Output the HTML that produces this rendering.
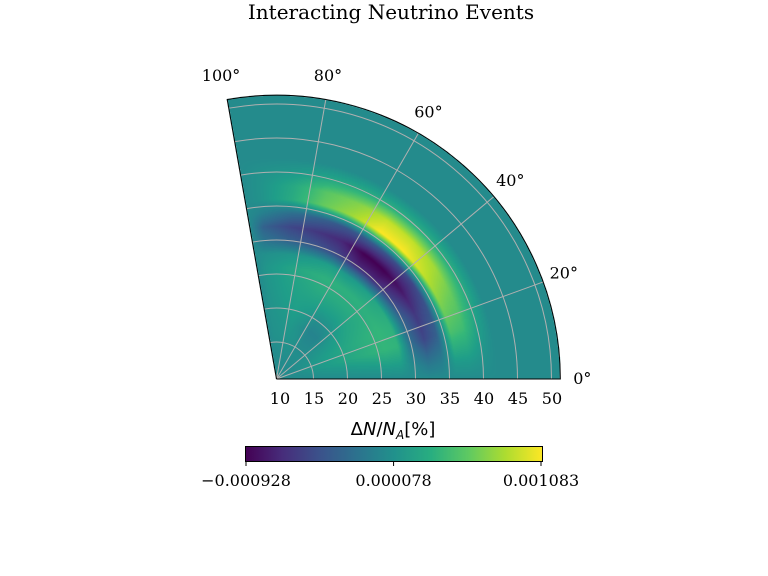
<!DOCTYPE html>
<html><head><meta charset="utf-8">
<style>
html,body{margin:0;padding:0;background:#fff;}
#wrap{position:relative;width:768px;height:576px;overflow:hidden;}
canvas,svg{position:absolute;left:0;top:0;}
text{font-family:"DejaVu Serif","Liberation Serif",serif;}
</style></head>
<body>
<div id="wrap">
<canvas id="heat" width="768" height="576"></canvas>
<svg id="ov" width="768" height="576">
<text x="391" y="19" text-anchor="middle" font-size="20">Interacting Neutrino Events</text>
<g id="grid"></g>
<g id="labels"></g>
<text x="393" y="435" text-anchor="middle" font-size="18" style="font-family:'DejaVu Sans',sans-serif">Δ<tspan font-style="italic">N</tspan>/<tspan font-style="italic">N</tspan><tspan font-style="italic" font-size="12" dy="4">A</tspan><tspan dy="-4">[%]</tspan></text>
<defs><linearGradient id="vir" x1="0" x2="1" y1="0" y2="0">
<stop offset="0" stop-color="#440154"/><stop offset="0.125" stop-color="#472d7b"/><stop offset="0.25" stop-color="#3b528b"/><stop offset="0.375" stop-color="#2c728e"/><stop offset="0.5" stop-color="#21918c"/><stop offset="0.625" stop-color="#28ae80"/><stop offset="0.75" stop-color="#5ec962"/><stop offset="0.875" stop-color="#addc30"/><stop offset="1" stop-color="#fde725"/></linearGradient></defs>
<rect x="245.5" y="446.5" width="297" height="15" fill="url(#vir)" stroke="#000" stroke-width="1"/>
<g id="cbticks"></g>
</svg>
</div>
<script>
// Data (values in units of 1e-4 %)
const radii = [10,12,14,16,18,20,22,24,26,28,30,32,34,36,38,40,42,44,46,48,50,52];
const angles = [0,5,15,25,35,45,55,65,75,85,95,100];
const values = [
[0.4,0.4,0.4,0.4,0.4,0.4,0.4,0.4,0.4,0.4,0.4,0.4],
[0.4,0.4,0.4,0.4,0.4,0.4,0.4,0.4,0.4,0.4,0.4,0.4],
[0.4,0.5,1.0,1.0,0.8,0.6,0.6,0.8,0.8,0.6,0.5,0.4],
[0.4,0.8,1.5,1.5,1.0,0.3,0.3,1.0,1.2,1.0,0.8,0.4],
[0.4,0.9,2.0,2.0,1.2,-0.2,-0.2,0.8,1.5,1.2,0.9,0.4],
[0.4,1.0,2.5,2.5,1.8,0.8,0.6,1.5,2.0,1.5,1.0,0.4],
[0.4,1.2,3.0,3.0,2.5,2.0,2.0,2.2,2.2,1.8,1.1,0.4],
[0.4,1.3,3.5,3.5,3.0,3.0,3.0,3.0,2.5,2.0,1.2,0.4],
[0.4,1.5,4.0,4.0,3.5,3.5,3.5,3.5,3.0,2.2,1.3,0.4],
[0.4,1.5,3.8,3.5,2.8,2.0,1.5,2.0,1.5,1.2,0.8,0.4],
[0.4,0.2,-2.0,-3.0,-5.0,-7.0,-7.0,-5.0,-4.0,-3.0,-1.5,0.4],
[0.4,-1.0,-5.0,-6.0,-8.0,-9.3,-9.3,-7.0,-6.0,-5.0,-3.0,0.4],
[0.4,-0.5,-3.0,-4.0,-5.0,-4.5,-3.5,-4.0,-3.0,-2.0,-0.5,0.4],
[0.4,1.5,5.0,7.0,9.0,10.8,10.8,8.0,6.0,3.0,1.0,0.4],
[0.4,1.5,4.5,6.0,8.0,9.0,9.0,7.0,5.5,2.8,1.0,0.4],
[0.4,1.0,2.2,3.0,3.2,3.2,3.2,3.0,2.5,1.5,0.9,0.4],
[0.4,0.4,0.4,0.4,0.4,0.4,0.4,0.4,0.4,0.4,0.4,0.4],
[0.4,0.4,0.4,0.4,0.4,0.4,0.4,0.4,0.4,0.4,0.4,0.4],
[0.4,0.4,0.4,0.4,0.4,0.4,0.4,0.4,0.4,0.4,0.4,0.4],
[0.4,0.4,0.4,0.4,0.4,0.4,0.4,0.4,0.4,0.4,0.4,0.4],
[0.4,0.4,0.4,0.4,0.4,0.4,0.4,0.4,0.4,0.4,0.4,0.4],
[0.4,0.4,0.4,0.4,0.4,0.4,0.4,0.4,0.4,0.4,0.4,0.4]
];
const radialTicks = [10,15,20,25,30,35,40,45,50];
const angleTicks = [0,20,40,60,80,100];
const cbTicks = [-9.28,0.78,10.83];
const cbTickLabels = ["\u22120.000928","0.000078","0.001083"];
const vmin = -9.28, vmax = 10.83;

const OX=276.5, OY=379, RMIN=9.56, SCALE=6.8, RMAX=51.3, AMAX=100;
const rpx = r => (r-RMIN)*SCALE;
const vir = [[68,1,84],[72,40,120],[62,74,137],[49,104,142],[38,130,142],[31,158,137],[53,183,121],[109,205,89],[180,222,44],[253,231,37]];
function cmap(t){t=Math.max(0,Math.min(1,t));const f=t*(vir.length-1);const i=Math.min(vir.length-2,Math.floor(f));const u=f-i;
return vir[i].map((c,k)=>Math.round(c+(vir[i+1][k]-c)*u));}
function idx(arr,v){for(let i=0;i<arr.length-1;i++){if(v<=arr[i+1])return [i,(v-arr[i])/(arr[i+1]-arr[i])];}return [arr.length-2,1];}
function sample(r,a){const [i,u]=idx(radii,r);const [j,w]=idx(angles,a);
const v00=values[i][j],v01=values[i][j+1],v10=values[i+1][j],v11=values[i+1][j+1];
return (v00*(1-w)+v01*w)*(1-u)+(v10*(1-w)+v11*w)*u;}
const cv=document.getElementById('heat');const ctx=cv.getContext('2d');
const img=ctx.createImageData(768,576);
for(let y=80;y<=380;y++)for(let x=220;x<=562;x++){
 const dx=x+0.5-OX, dy=OY-(y+0.5); const d=Math.hypot(dx,dy);
 if(d>rpx(RMAX)) continue; let a=Math.atan2(dy,dx)*180/Math.PI; if(a<0||a>AMAX) continue;
 const r=RMIN+d/SCALE; const c=cmap((sample(r,a)-vmin)/(vmax-vmin));
 const p=(y*768+x)*4; img.data[p]=c[0];img.data[p+1]=c[1];img.data[p+2]=c[2];img.data[p+3]=255;}
ctx.putImageData(img,0,0);

const NS='http://www.w3.org/2000/svg';
const grid=document.getElementById('grid'), lab=document.getElementById('labels');
function pt(rp,a){const t=a*Math.PI/180;return [OX+rp*Math.cos(t),OY-rp*Math.sin(t)];}
function arc(rp){const [x1,y1]=pt(rp,0),[x2,y2]=pt(rp,AMAX);return `M${x1},${y1} A${rp},${rp} 0 0 0 ${x2},${y2}`;}
radialTicks.forEach(r=>{
 if(r>RMIN+0.5){const p=document.createElementNS(NS,'path');p.setAttribute('d',arc(rpx(r)));p.setAttribute('fill','none');p.setAttribute('stroke','#b0b0b0');p.setAttribute('stroke-width','1');
 
 
 grid.appendChild(p);}
 const t=document.createElementNS(NS,'text');t.setAttribute('x',OX+rpx(r)+0.5);t.setAttribute('y',404);t.setAttribute('text-anchor','middle');t.setAttribute('font-size','16');t.textContent=r;
 
 
 lab.appendChild(t);
});
angleTicks.forEach(a=>{
 if(a>0&&a<AMAX){const [x,y]=pt(rpx(RMAX),a);const l=document.createElementNS(NS,'line');l.setAttribute('x1',OX);l.setAttribute('y1',OY);l.setAttribute('x2',x);l.setAttribute('y2',y);l.setAttribute('stroke','#b0b0b0');l.setAttribute('stroke-width','1');
 
 
 grid.appendChild(l);}
 const [x,y]=pt(rpx(RMAX)+24,a);const t=document.createElementNS(NS,'text');t.setAttribute('x',x-2);t.setAttribute('y',y+5);t.setAttribute('text-anchor','middle');t.setAttribute('font-size','16');t.textContent=a+'\u00b0';
 
 
 lab.appendChild(t);
});
const b=document.createElementNS(NS,'path');
b.setAttribute('d',`M${OX},${OY} L${OX+rpx(RMAX)},${OY} `+arc(rpx(RMAX)).replace(/^M[^A]*/,'')+` L${OX},${OY}`);
b.setAttribute('fill','none');b.setAttribute('stroke','#000');b.setAttribute('stroke-width','1');


grid.appendChild(b);
const cb=document.getElementById('cbticks');
cbTicks.forEach((v,i)=>{const x=246+(v-vmin)/(vmax-vmin)*295;
 const l=document.createElementNS(NS,'line');l.setAttribute('x1',x);l.setAttribute('x2',x);l.setAttribute('y1',462);l.setAttribute('y2',466);l.setAttribute('stroke','#000');
 
 
 cb.appendChild(l);
 const t=document.createElementNS(NS,'text');t.setAttribute('x',x);t.setAttribute('y',486);t.setAttribute('text-anchor','middle');t.setAttribute('font-size','16');t.textContent=cbTickLabels[i];
 
 
 cb.appendChild(t);});
</script>
</body></html>
